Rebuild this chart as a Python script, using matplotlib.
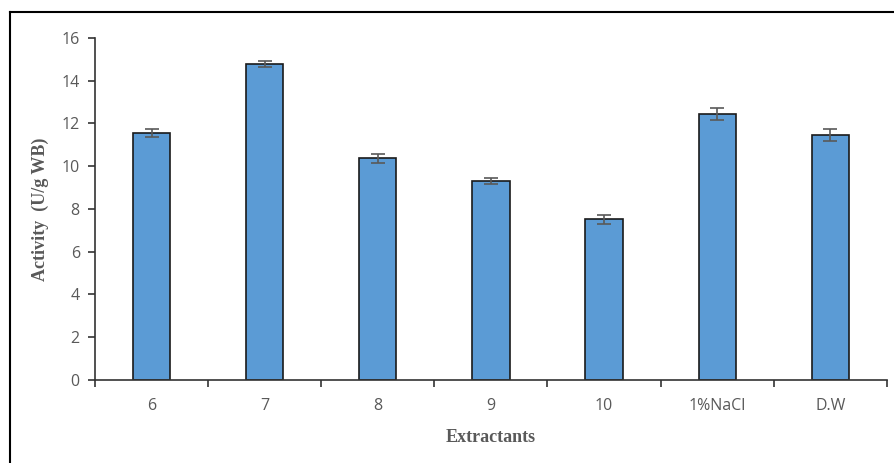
import numpy as np
import matplotlib.pyplot as plt
from matplotlib.lines import Line2D

# data
categories = ['6', '7', '8', '9', '10', '1%NaCl', 'D.W']
activity = [11.55, 14.78, 10.37, 9.32, 7.52, 12.45, 11.47]
errors = [0.2, 0.15, 0.2, 0.13, 0.2, 0.28, 0.28]
yticks = [0, 2, 4, 6, 8, 10, 12, 14, 16]

fig = plt.figure(figsize=(8.94, 4.63), dpi=100)
ax = fig.add_axes([0.1063, 0.1793, 0.8857, 0.7387])

x = np.arange(len(categories))
ax.bar(x, activity, width=0.33, color='#5B9BD5', edgecolor='#1a1a1a', linewidth=1.2,
       yerr=errors, error_kw=dict(ecolor='#595959', elinewidth=1.2, capsize=5, capthick=1.2),
       zorder=2)

ax.set_xlim(-0.5, len(categories) - 0.5)
ax.set_ylim(0, 16)
ax.set_yticks(yticks)
ax.set_yticklabels([str(t) for t in yticks])

# category labels centred, ticks on the boundaries
ax.set_xticks(np.arange(-0.5, len(categories)), minor=False)
ax.set_xticklabels([])
ax.set_xticks(x, minor=True)
ax.set_xticklabels(categories, minor=True)
ax.tick_params(axis='x', which='minor', length=0, pad=13)
ax.tick_params(axis='x', which='major', length=5, width=1.2, color='#333333', direction='out')
ax.tick_params(axis='y', length=5, width=1.2, color='#333333', direction='out', pad=6)

for lab in ax.get_xticklabels(minor=True) + ax.get_yticklabels():
    lab.set_fontfamily('Open Sans')
    lab.set_fontsize(11.5)
    lab.set_color('#595959')

for side in ['top', 'right']:
    ax.spines[side].set_visible(False)
for side in ['left', 'bottom']:
    ax.spines[side].set_linewidth(1.2)
    ax.spines[side].set_color('#333333')

ax.set_xlabel('Extractants', fontfamily='Liberation Serif', fontweight='bold',
              fontsize=13, color='#595959', labelpad=11)
ax.set_ylabel('Activity  (U/g WB)', fontfamily='Liberation Serif', fontweight='bold',
              fontsize=13, color='#595959', labelpad=9)

# frame lines at left and top of the picture
fig.add_artist(Line2D([10 / 894, 10 / 894], [0, 1 - 12 / 463], transform=fig.transFigure,
                      color='black', linewidth=1.5))
fig.add_artist(Line2D([10 / 894, 1], [1 - 12 / 463, 1 - 12 / 463], transform=fig.transFigure,
                      color='black', linewidth=1.5))

fig.savefig('out.png', dpi=100)
